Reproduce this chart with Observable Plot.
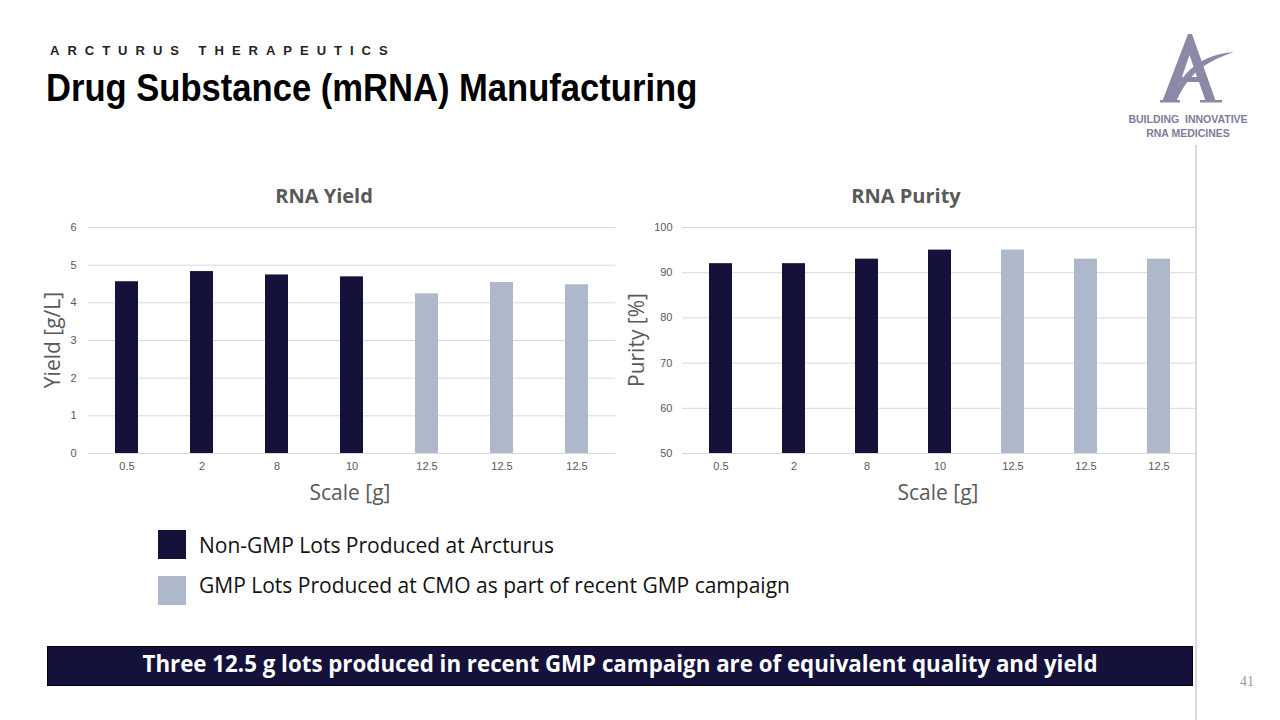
<!DOCTYPE html>
<html>
<head>
<meta charset="utf-8">
<script src="https://cdn.jsdelivr.net/npm/d3@7"></script>
<script src="https://cdn.jsdelivr.net/npm/@observablehq/plot@0.6"></script>
<style>
  html, body { margin:0; padding:0; background:#fff; }
  #page { position:relative; width:1280px; height:720px; overflow:hidden; font-family:"Liberation Sans", Arial, sans-serif; }
  .abs { position:absolute; white-space:nowrap; }
  .brand { left:50px; top:43px; font-size:13px; font-weight:bold; letter-spacing:8px; color:#222; }
  .title { left:46px; top:67px; font-family:"Liberation Sans", Arial, sans-serif; font-weight:bold; font-size:38px; color:#000; transform-origin:0 0; transform:scaleX(0.91); }
  .ctitle { font-family:"Open Sans","Noto Sans",sans-serif; font-weight:bold; font-size:20px; color:#595959; transform:translateX(-50%); }
  .alabel { font-family:"Open Sans","Noto Sans",sans-serif; font-size:21px; color:#595959; }
  .leg { font-family:"Open Sans","Noto Sans",sans-serif; font-size:21px; color:#111; }
  .sw { position:absolute; width:28px; height:29px; }
  .banner { left:47px; top:646px; width:1144px; height:38px; background:#14113b; border:1px solid #000; color:#fff; font-family:"Open Sans","Noto Sans",sans-serif; font-weight:bold; font-size:22.3px; text-align:center; line-height:33px; }
  .tag { font-size:10.5px; font-weight:bold; color:#7c7c9a; text-align:center; width:160px; left:1108px; line-height:14px; }
  .pg { left:1240px; top:674px; font-family:"Liberation Serif",serif; font-size:14px; color:#999; }
  .vline { left:1195px; top:145px; width:2px; height:575px; background:#d9d9d9; }
</style>
</head>
<body>
<div id="page">
  <div class="abs brand">ARCTURUS THERAPEUTICS</div>
  <div class="abs title">Drug Substance (mRNA) Manufacturing</div>

  <svg class="abs" style="left:1150px;top:30px" width="90" height="75" viewBox="0 0 90 75">
    <path d="M12 72 L38 4 L42 4 L66 72 L56 72 L49 52 L30 52 L24 66 Q22 72 28 72 Z M32 47 L47 47 L39.5 25 Z" fill="#8a8aa6"/>
    <path d="M22 72 Q30 40 58 28 Q70 23 84 22 Q66 28 54 36 Q36 48 26 72 Z" fill="#8a8aa6"/>
    <rect x="10" y="70" width="20" height="2.5" fill="#8a8aa6"/>
    <rect x="50" y="70" width="22" height="2.5" fill="#8a8aa6"/>
  </svg>
  <div class="abs tag" style="top:112px">BUILDING&nbsp; INNOVATIVE<br>RNA MEDICINES</div>
  <div class="abs vline"></div>

  <div class="abs ctitle" style="left:324px;top:182px">RNA Yield</div>
  <div class="abs ctitle" style="left:906px;top:182px">RNA Purity</div>
  <div id="c1" class="abs" style="left:30px;top:215px"></div>
  <div id="c2" class="abs" style="left:620px;top:215px"></div>
  <div class="abs alabel" style="left:350px;top:478px;transform:translateX(-50%)">Scale [g]</div>
  <div class="abs alabel" style="left:938px;top:478px;transform:translateX(-50%)">Scale [g]</div>
  <div class="abs alabel" style="left:52px;top:340px;transform:translate(-50%,-50%) rotate(-90deg)">Yield [g/L]</div>
  <div class="abs alabel" style="left:636px;top:340px;transform:translate(-50%,-50%) rotate(-90deg)">Purity [%]</div>

  <div class="sw" style="left:158px;top:530px;background:#14113b"></div>
  <div class="abs leg" style="left:199px;top:531px">Non-GMP Lots Produced at Arcturus</div>
  <div class="sw" style="left:158px;top:576px;background:#adb9ca"></div>
  <div class="abs leg" style="left:199px;top:571px">GMP Lots Produced at CMO as part of recent GMP campaign</div>

  <div class="abs banner">Three 12.5 g lots produced in recent GMP campaign are of equivalent quality and yield</div>
  <div class="abs pg">41</div>
</div>
<script>
const scales = ["0.5", "2", "8", "10", "12.5", "12.5", "12.5"];
const yieldValues = [4.56, 4.83, 4.74, 4.69, 4.24, 4.54, 4.48];
const purityValues = [92, 92, 93, 95, 95, 93, 93];
const lotTypes = ["Non-GMP", "Non-GMP", "Non-GMP", "Non-GMP", "GMP", "GMP", "GMP"];
const yieldTicks = [0, 1, 2, 3, 4, 5, 6];
const purityTicks = [50, 60, 70, 80, 90, 100];
const lotColors = {"Non-GMP": "#14113b", "GMP": "#adb9ca"};

function chart(values, domain, ticks, opts) {
  const data = values.map((v, i) => ({i, scale: scales[i], v, type: lotTypes[i]}));
  return Plot.plot({
    width: opts.width,
    height: 300,
    marginLeft: opts.marginLeft,
    marginRight: opts.marginRight,
    marginTop: 12,
    marginBottom: 62,
    style: {fontFamily: "'Liberation Sans', Arial, sans-serif", fontSize: "11px", color: "#595959", background: "transparent"},
    x: {type: "band", domain: data.map(d => d.i), padding: 0.69, paddingOuter: 0.345, label: null},
    y: {domain, label: null},
    marks: [
      Plot.gridY(ticks, {stroke: "#d9d9d9", strokeOpacity: 1, strokeWidth: 1}),
      Plot.barY(data, {x: "i", y1: domain[0], y2: "v", fill: d => lotColors[d.type]}),
      Plot.axisY(ticks, {tickSize: 0, tickPadding: opts.tickPad, label: null}),
      Plot.axisX({tickSize: 0, tickPadding: 9, tickFormat: i => scales[i], label: null})
    ]
  });
}
document.getElementById("c1").appendChild(chart(yieldValues, [0, 6], yieldTicks, {width: 590, marginLeft: 58, marginRight: 5, tickPad: 12}));
document.getElementById("c2").appendChild(chart(purityValues, [50, 100], purityTicks, {width: 580, marginLeft: 62, marginRight: 4, tickPad: 10}));
</script>
</body>
</html>
